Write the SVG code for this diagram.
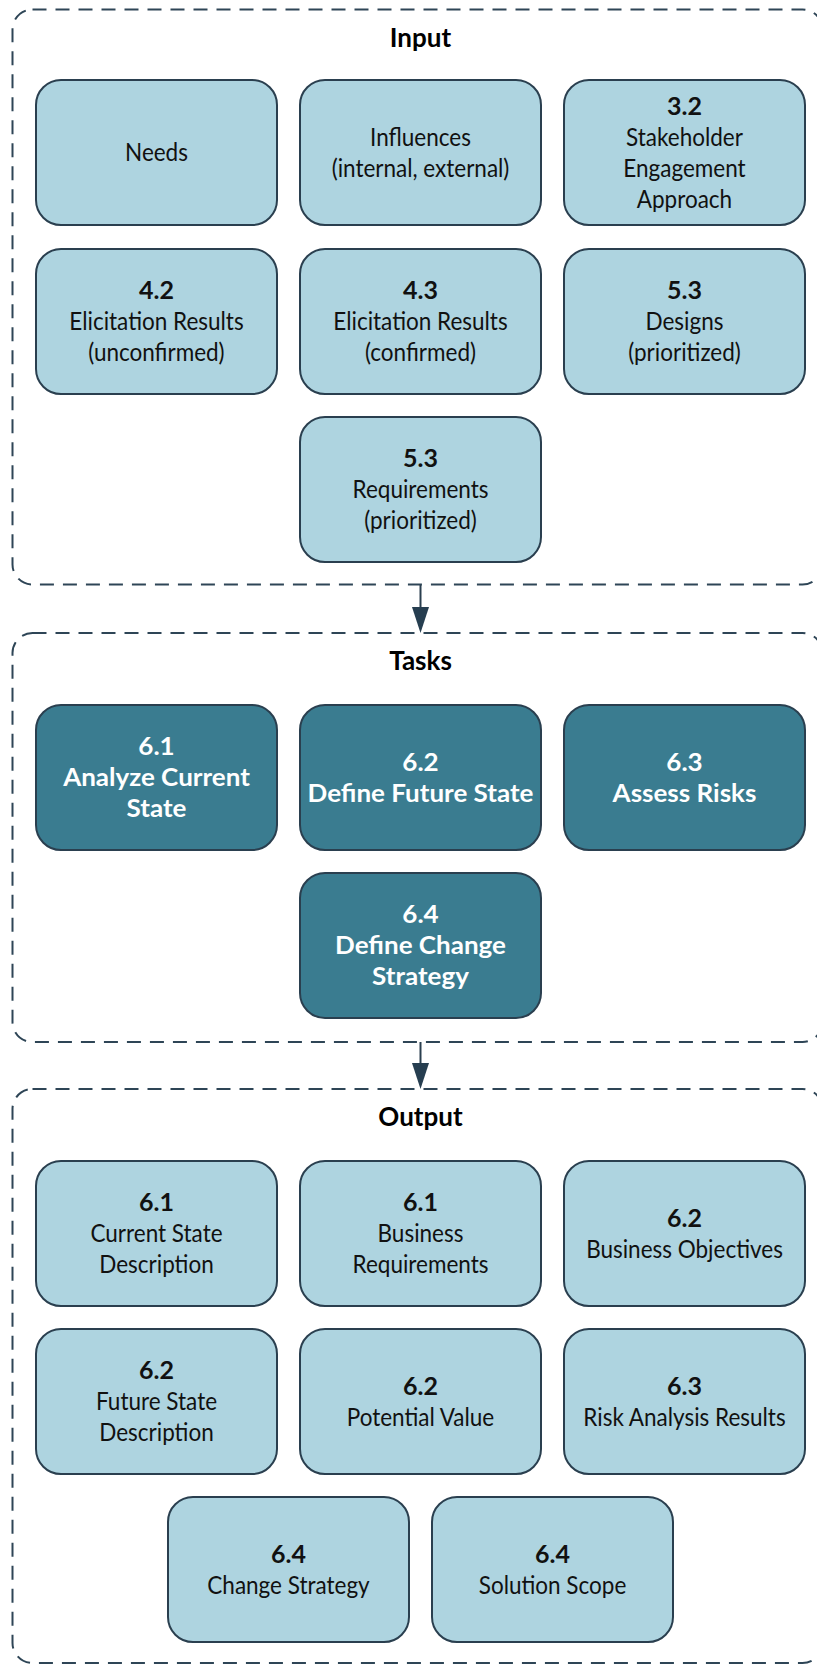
<svg xmlns="http://www.w3.org/2000/svg" width="817" height="1665" viewBox="0 0 817 1665">
<style>
.cont{fill:none;stroke:#2e4556;stroke-width:2;stroke-dasharray:14 9}
.n rect{fill:#aed4e0;stroke:#2a3f4f;stroke-width:2}
.k rect{fill:#3a7c90;stroke:#2a3f4f;stroke-width:2}
text{font-family:Lato,"Open Sans",sans-serif;text-anchor:middle}
.r{font-size:25px;fill:#111}
.b{font-size:25px;font-weight:700;fill:#111}
.k text{fill:#fff;font-weight:700;font-size:25px}
.ttl{font-size:26px;font-weight:700;fill:#000}
.conn line{stroke:#2a3f4f;stroke-width:2}
</style>
<defs>
<marker id="ah" viewBox="0 0 26 17" refX="0" refY="8.5" markerWidth="26" markerHeight="17" markerUnits="userSpaceOnUse" orient="auto">
<path d="M0,0 L26,8.5 L0,17 Z" fill="#263e50"/>
</marker>
</defs>

<g id="input">
<rect class="cont" x="12.5" y="9.5" width="810" height="575" rx="20"/>
<text class="ttl" transform="translate(420.5,46.5)">Input</text>
</g>
<g id="tasks">
<rect class="cont" x="12.5" y="633" width="810" height="409" rx="20"/>
<text class="ttl" transform="translate(420.5,670)">Tasks</text>
</g>
<g id="output">
<rect class="cont" x="12.5" y="1089" width="810" height="574" rx="20"/>
<text class="ttl" transform="translate(420.5,1126)">Output</text>
</g>

<g id="connectors" class="conn">
<line x1="420.5" y1="585" x2="420.5" y2="607" marker-end="url(#ah)"/>
<line x1="420.5" y1="1042" x2="420.5" y2="1063" marker-end="url(#ah)"/>
</g>

<!-- Input nodes -->
<g id="in-needs" class="n" transform="translate(36,80)">
<rect width="241" height="145" rx="25"/>
<text class="r" transform="translate(120.5,81) scale(.9,1)">Needs</text>
</g>
<g id="in-influences" class="n" transform="translate(300,80)">
<rect width="241" height="145" rx="25"/>
<text class="r" transform="translate(120.5,65.5) scale(.9,1)">Influences</text>
<text class="r" transform="translate(120.5,96.5) scale(.9,1)">(internal, external)</text>
</g>
<g id="in-3-2" class="n" transform="translate(564,80)">
<rect width="241" height="145" rx="25"/>
<text class="b" transform="translate(120.5,34.5)">3.2</text>
<text class="r" transform="translate(120.5,65.5) scale(.9,1)">Stakeholder</text>
<text class="r" transform="translate(120.5,96.5) scale(.9,1)">Engagement</text>
<text class="r" transform="translate(120.5,127.5) scale(.9,1)">Approach</text>
</g>
<g id="in-4-2" class="n" transform="translate(36,249)">
<rect width="241" height="145" rx="25"/>
<text class="b" transform="translate(120.5,50)">4.2</text>
<text class="r" transform="translate(120.5,81) scale(.9,1)">Elicitation Results</text>
<text class="r" transform="translate(120.5,112) scale(.9,1)">(unconfirmed)</text>
</g>
<g id="in-4-3" class="n" transform="translate(300,249)">
<rect width="241" height="145" rx="25"/>
<text class="b" transform="translate(120.5,50)">4.3</text>
<text class="r" transform="translate(120.5,81) scale(.9,1)">Elicitation Results</text>
<text class="r" transform="translate(120.5,112) scale(.9,1)">(confirmed)</text>
</g>
<g id="in-5-3-designs" class="n" transform="translate(564,249)">
<rect width="241" height="145" rx="25"/>
<text class="b" transform="translate(120.5,50)">5.3</text>
<text class="r" transform="translate(120.5,81) scale(.9,1)">Designs</text>
<text class="r" transform="translate(120.5,112) scale(.9,1)">(prioritized)</text>
</g>
<g id="in-5-3-req" class="n" transform="translate(300,417)">
<rect width="241" height="145" rx="25"/>
<text class="b" transform="translate(120.5,50)">5.3</text>
<text class="r" transform="translate(120.5,81) scale(.9,1)">Requirements</text>
<text class="r" transform="translate(120.5,112) scale(.9,1)">(prioritized)</text>
</g>

<!-- Task nodes -->
<g id="task-6-1" class="k" transform="translate(36,705)">
<rect width="241" height="145" rx="25"/>
<text transform="translate(120.5,50) scale(1.04,1)">6.1</text>
<text transform="translate(120.5,81) scale(1.04,1)">Analyze Current</text>
<text transform="translate(120.5,112) scale(1.04,1)">State</text>
</g>
<g id="task-6-2" class="k" transform="translate(300,705)">
<rect width="241" height="145" rx="25"/>
<text transform="translate(120.5,65.5) scale(1.04,1)">6.2</text>
<text transform="translate(120.5,96.5) scale(1.04,1)">Define Future State</text>
</g>
<g id="task-6-3" class="k" transform="translate(564,705)">
<rect width="241" height="145" rx="25"/>
<text transform="translate(120.5,65.5) scale(1.04,1)">6.3</text>
<text transform="translate(120.5,96.5) scale(1.04,1)">Assess Risks</text>
</g>
<g id="task-6-4" class="k" transform="translate(300,873)">
<rect width="241" height="145" rx="25"/>
<text transform="translate(120.5,50) scale(1.04,1)">6.4</text>
<text transform="translate(120.5,81) scale(1.04,1)">Define Change</text>
<text transform="translate(120.5,112) scale(1.04,1)">Strategy</text>
</g>

<!-- Output nodes -->
<g id="out-current-state" class="n" transform="translate(36,1161)">
<rect width="241" height="145" rx="25"/>
<text class="b" transform="translate(120.5,50)">6.1</text>
<text class="r" transform="translate(120.5,81) scale(.9,1)">Current State</text>
<text class="r" transform="translate(120.5,112) scale(.9,1)">Description</text>
</g>
<g id="out-business-req" class="n" transform="translate(300,1161)">
<rect width="241" height="145" rx="25"/>
<text class="b" transform="translate(120.5,50)">6.1</text>
<text class="r" transform="translate(120.5,81) scale(.9,1)">Business</text>
<text class="r" transform="translate(120.5,112) scale(.9,1)">Requirements</text>
</g>
<g id="out-business-obj" class="n" transform="translate(564,1161)">
<rect width="241" height="145" rx="25"/>
<text class="b" transform="translate(120.5,65.5)">6.2</text>
<text class="r" transform="translate(120.5,96.5) scale(.9,1)">Business Objectives</text>
</g>
<g id="out-future-state" class="n" transform="translate(36,1329)">
<rect width="241" height="145" rx="25"/>
<text class="b" transform="translate(120.5,50)">6.2</text>
<text class="r" transform="translate(120.5,81) scale(.9,1)">Future State</text>
<text class="r" transform="translate(120.5,112) scale(.9,1)">Description</text>
</g>
<g id="out-potential-value" class="n" transform="translate(300,1329)">
<rect width="241" height="145" rx="25"/>
<text class="b" transform="translate(120.5,65.5)">6.2</text>
<text class="r" transform="translate(120.5,96.5) scale(.9,1)">Potential Value</text>
</g>
<g id="out-risk-analysis" class="n" transform="translate(564,1329)">
<rect width="241" height="145" rx="25"/>
<text class="b" transform="translate(120.5,65.5)">6.3</text>
<text class="r" transform="translate(120.5,96.5) scale(.9,1)">Risk Analysis Results</text>
</g>
<g id="out-change-strategy" class="n" transform="translate(168,1497)">
<rect width="241" height="145" rx="25"/>
<text class="b" transform="translate(120.5,65.5)">6.4</text>
<text class="r" transform="translate(120.5,96.5) scale(.9,1)">Change Strategy</text>
</g>
<g id="out-solution-scope" class="n" transform="translate(432,1497)">
<rect width="241" height="145" rx="25"/>
<text class="b" transform="translate(120.5,65.5)">6.4</text>
<text class="r" transform="translate(120.5,96.5) scale(.9,1)">Solution Scope</text>
</g>
</svg>
